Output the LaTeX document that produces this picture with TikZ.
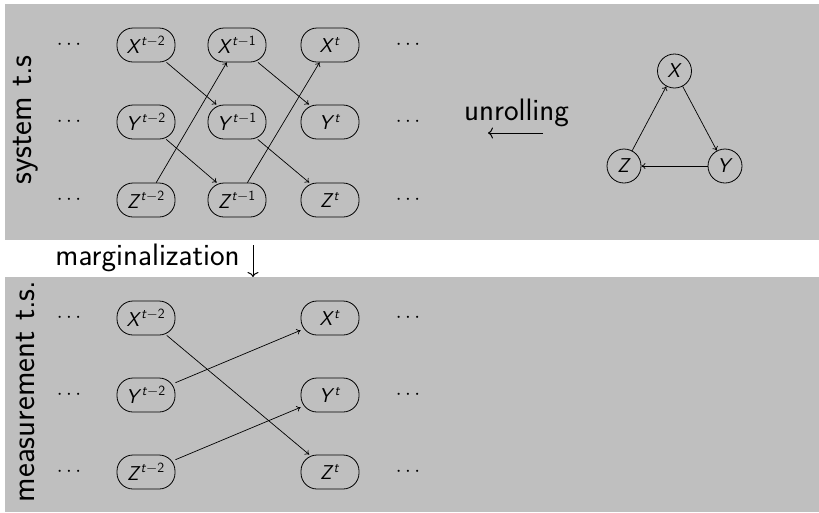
\documentclass[tikz,border=0pt]{standalone}
\usetikzlibrary{arrows.meta}
\newcommand\nodefont{\fontsize{20}{23}\selectfont\sffamily}
\newcommand\labfont{\fontsize{31}{36}\selectfont\sffamily}
\newcommand\rotfont{\fontsize{33}{38}\selectfont\sffamily}
\newcommand\vr[2]{\textit{#1}\textsuperscript{\textit{t}#2}}
\definecolor{panelgray}{HTML}{BFBFBF}
\begin{document}
\begin{tikzpicture}[x=1pt,y=-1pt,
  panel/.style={fill=panelgray},
  var/.style={draw, line width=0.8pt, rounded corners=16pt, minimum width=58pt, minimum height=34pt, inner sep=1pt, font=\nodefont},
  circ/.style={draw, line width=0.8pt, circle, minimum size=34pt, inner sep=0pt, font=\nodefont},
  dotsnode/.style={font=\nodefont, inner sep=0pt},
  lab/.style={font=\labfont, inner sep=0pt},
  rlab/.style={font=\rotfont, inner sep=0pt, rotate=90},
  edge/.style={-{To[length=4pt,width=6pt]}, line width=0.7pt},
  bigarrow/.style={-{To[length=5pt,width=11pt]}, line width=1pt}]
\useasboundingbox (0,0) rectangle (819,512);
\fill[panel] (5,4) rectangle (819,240);
\fill[panel] (5,277) rectangle (819,512);

% top panel
\node[rlab] (sys) at (26,120) {system t.s};
\foreach \y/\n in {45/a,122/b,200/c}{
  \node[dotsnode] (dl\n) at (69,\y) {$\cdots$};
  \node[dotsnode] (dr\n) at (408,\y) {$\cdots$};
}
\node[var] (X2) at (146,45) {\vr{X}{$-$2}};
\node[var] (Y2) at (146,122) {\vr{Y}{$-$2}};
\node[var] (Z2) at (146,200) {\vr{Z}{$-$2}};
\node[var] (X1) at (237,45) {\vr{X}{$-$1}};
\node[var] (Y1) at (237,122) {\vr{Y}{$-$1}};
\node[var] (Z1) at (237,200) {\vr{Z}{$-$1}};
\node[var] (X0) at (330,45) {\vr{X}{}};
\node[var] (Y0) at (330,122) {\vr{Y}{}};
\node[var] (Z0) at (330,200) {\vr{Z}{}};
\draw[edge] (X2) -- (Y1);
\draw[edge] (Z2) -- (X1);
\draw[edge] (Y2) -- (Z1);
\draw[edge] (X1) -- (Y0);
\draw[edge] (Z1) -- (X0);
\draw[edge] (Y1) -- (Z0);

\node[lab, anchor=base] (unr) at (516.5,120) {unrolling};
\coordinate (ua) at (543,133);
\coordinate (ub) at (488,133);
\draw[bigarrow] (ua) -- (ub);

\node[circ] (X) at (674.5,71) {\textit{X}};
\node[circ] (Z) at (624,166) {\textit{Z}};
\node[circ] (Y) at (725,166) {\textit{Y}};
\draw[edge] (Z) -- (X);
\draw[edge] (X) -- (Y);
\draw[edge] (Y) -- (Z);

% marginalization
\node[lab, anchor=base] (marg) at (147.5,265) {marginalization};
\coordinate (ma) at (253,245);
\coordinate (mb) at (253,277);
\draw[bigarrow] (ma) -- (mb);

% bottom panel
\node[rlab] (meas) at (26,391.5) {measurement t.s.};
\foreach \y/\n in {318/a,395/b,472/c}{
  \node[dotsnode] (el\n) at (69,\y) {$\cdots$};
  \node[dotsnode] (er\n) at (408,\y) {$\cdots$};
}
\node[var] (mX2) at (146,318) {\vr{X}{$-$2}};
\node[var] (mY2) at (146,395) {\vr{Y}{$-$2}};
\node[var] (mZ2) at (146,472) {\vr{Z}{$-$2}};
\node[var] (mX0) at (330,318) {\vr{X}{}};
\node[var] (mY0) at (330,395) {\vr{Y}{}};
\node[var] (mZ0) at (330,472) {\vr{Z}{}};
\draw[edge] (mX2) -- (mZ0);
\draw[edge] (mY2) -- (mX0);
\draw[edge] (mZ2) -- (mY0);
\end{tikzpicture}
\end{document}
